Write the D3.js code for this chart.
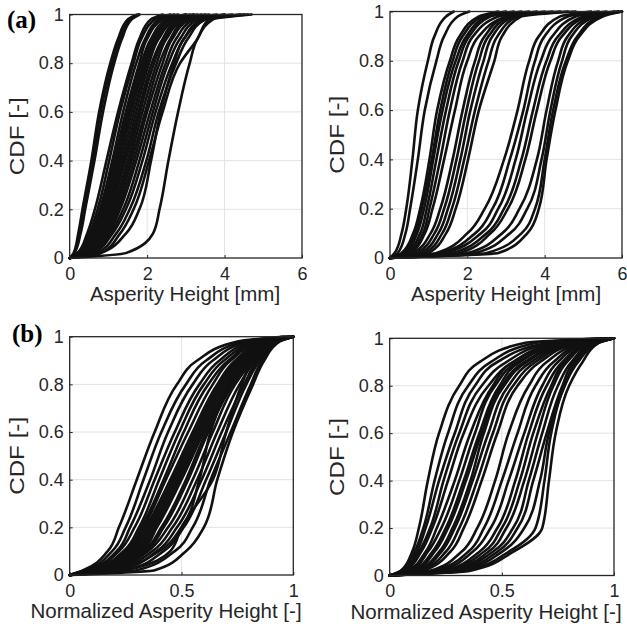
<!DOCTYPE html>
<html><head><meta charset="utf-8">
<script src="https://cdn.jsdelivr.net/npm/d3@7"></script>
<style>body{margin:0;background:#fff}svg{display:block}</style>
</head><body><svg id="chart" width="627" height="628"></svg>
<script>
const cdfLevels = [0, 0.02, 0.1, 0.2, 0.4, 0.6, 0.8, 0.9, 0.98, 1];
const heightTicks = [0, 2, 4, 6];
const normTicks = [0, 0.5, 1];
const cdfTicks = [0, 0.2, 0.4, 0.6, 0.8, 1];

// (a) left: asperity height [mm]
const curvesA1 = [
  [0, 0.10, 0.22, 0.33, 0.56, 0.76, 1.05, 1.25, 1.50, 1.75],
  [0, 0.12, 0.25, 0.36, 0.60, 0.80, 1.10, 1.30, 1.55, 1.80],
  [0, 0.12, 0.28, 0.40, 0.64, 0.86, 1.15, 1.35, 1.60, 1.80],
  [0, 0.20, 0.45, 0.65, 0.95, 1.25, 1.60, 1.80, 2.10, 2.40],
  [0, 0.20, 0.50, 0.72, 1.02, 1.30, 1.65, 1.85, 2.20, 2.60],
  [0, 0.25, 0.55, 0.78, 1.10, 1.38, 1.72, 1.95, 2.30, 2.70],
  [0, 0.25, 0.60, 0.82, 1.15, 1.45, 1.80, 2.00, 2.40, 2.80],
  [0, 0.30, 0.62, 0.86, 1.20, 1.50, 1.85, 2.10, 2.50, 3.00],
  [0, 0.30, 0.66, 0.90, 1.25, 1.55, 1.90, 2.15, 2.60, 3.10],
  [0, 0.35, 0.70, 0.95, 1.30, 1.60, 1.95, 2.20, 2.60, 3.00],
  [0, 0.35, 0.72, 0.98, 1.35, 1.66, 2.00, 2.25, 2.70, 3.20],
  [0, 0.40, 0.76, 1.02, 1.40, 1.72, 2.05, 2.30, 2.75, 3.30],
  [0, 0.40, 0.80, 1.05, 1.44, 1.78, 2.12, 2.40, 2.80, 3.20],
  [0, 0.45, 0.85, 1.10, 1.50, 1.82, 2.18, 2.45, 2.90, 3.40],
  [0, 0.45, 0.88, 1.15, 1.55, 1.88, 2.25, 2.50, 2.95, 3.50],
  [0, 0.50, 0.92, 1.20, 1.60, 1.95, 2.32, 2.60, 3.00, 3.60],
  [0, 0.50, 0.95, 1.25, 1.66, 2.00, 2.40, 2.65, 3.10, 3.80],
  [0, 0.55, 1.00, 1.30, 1.72, 2.08, 2.48, 2.75, 3.20, 4.00],
  [0, 0.60, 1.05, 1.38, 1.80, 2.15, 2.55, 2.85, 3.30, 4.20],
  [0, 0.60, 1.10, 1.45, 1.88, 2.22, 2.65, 2.95, 3.40, 4.40],
  [0, 0.70, 1.20, 1.55, 1.98, 2.30, 2.75, 3.05, 3.50, 4.50],
  [0, 0.80, 1.30, 1.65, 2.05, 2.40, 2.85, 3.30, 3.60, 4.60],
  [0, 0.80, 1.45, 1.80, 2.10, 2.35, 2.70, 2.95, 3.50, 4.00],
  [0, 1.45, 2.15, 2.32, 2.55, 2.80, 3.10, 3.30, 3.70, 4.70]
];

// (a) right: asperity height [mm]
const curvesA2 = [
  [0, 0.12, 0.30, 0.42, 0.58, 0.72, 0.98, 1.15, 1.45, 1.65],
  [0, 0.20, 0.40, 0.52, 0.72, 0.90, 1.20, 1.40, 1.75, 2.05],
  [0, 0.30, 0.60, 0.78, 1.02, 1.22, 1.55, 1.80, 2.30, 2.80],
  [0, 0.35, 0.65, 0.82, 1.08, 1.30, 1.62, 1.88, 2.40, 3.00],
  [0, 0.40, 0.70, 0.88, 1.12, 1.36, 1.70, 1.98, 2.50, 3.20],
  [0, 0.45, 0.78, 0.95, 1.20, 1.45, 1.78, 2.05, 2.60, 3.40],
  [0, 0.50, 0.85, 1.02, 1.30, 1.55, 1.88, 2.15, 2.80, 3.60],
  [0, 0.55, 0.90, 1.10, 1.40, 1.68, 2.00, 2.30, 3.00, 3.80],
  [0, 0.60, 1.05, 1.30, 1.62, 1.88, 2.20, 2.45, 3.00, 4.00],
  [0, 0.70, 1.15, 1.40, 1.72, 1.98, 2.30, 2.55, 3.10, 4.20],
  [0, 0.80, 1.25, 1.50, 1.82, 2.08, 2.42, 2.65, 3.20, 4.40],
  [0, 0.90, 1.35, 1.60, 1.92, 2.20, 2.55, 2.78, 3.30, 4.60],
  [0, 1.00, 1.45, 1.70, 2.02, 2.30, 2.70, 2.90, 3.40, 4.80],
  [0, 1.20, 2.00, 2.45, 2.95, 3.30, 3.60, 3.85, 4.40, 5.20],
  [0, 1.30, 2.20, 2.65, 3.10, 3.45, 3.75, 4.00, 4.60, 5.40],
  [0, 1.40, 2.35, 2.80, 3.25, 3.55, 3.90, 4.20, 4.80, 5.60],
  [0, 1.60, 2.50, 2.95, 3.40, 3.70, 4.05, 4.35, 5.00, 5.80],
  [0, 1.80, 2.60, 3.05, 3.50, 3.80, 4.15, 4.45, 5.10, 5.90],
  [0, 2.00, 2.90, 3.35, 3.80, 4.05, 4.35, 4.60, 5.20, 5.90],
  [0, 2.20, 3.10, 3.55, 3.92, 4.15, 4.45, 4.70, 5.30, 6.00],
  [0, 2.50, 3.40, 3.75, 4.00, 4.22, 4.55, 4.85, 5.40, 6.00],
  [0, 2.80, 3.55, 3.85, 4.05, 4.28, 4.60, 4.90, 5.50, 6.00]
];

// (b) left: normalized asperity height [-]
const curvesB1 = [
  [0, 0.06, 0.17, 0.22, 0.30, 0.38, 0.48, 0.57, 0.75, 0.95],
  [0, 0.07, 0.19, 0.25, 0.33, 0.41, 0.52, 0.61, 0.78, 0.96],
  [0, 0.08, 0.21, 0.27, 0.36, 0.44, 0.55, 0.64, 0.80, 0.96],
  [0, 0.09, 0.22, 0.29, 0.38, 0.47, 0.58, 0.67, 0.82, 0.97],
  [0, 0.10, 0.24, 0.31, 0.40, 0.49, 0.60, 0.69, 0.84, 0.97],
  [0, 0.10, 0.25, 0.32, 0.42, 0.51, 0.62, 0.71, 0.85, 0.98],
  [0, 0.11, 0.26, 0.33, 0.43, 0.53, 0.64, 0.72, 0.86, 0.98],
  [0, 0.12, 0.27, 0.34, 0.45, 0.55, 0.66, 0.74, 0.87, 0.98],
  [0, 0.12, 0.28, 0.35, 0.46, 0.56, 0.67, 0.75, 0.88, 0.98],
  [0, 0.13, 0.29, 0.36, 0.47, 0.57, 0.68, 0.76, 0.88, 0.99],
  [0, 0.14, 0.30, 0.37, 0.48, 0.58, 0.69, 0.77, 0.89, 0.99],
  [0, 0.15, 0.31, 0.38, 0.49, 0.59, 0.70, 0.78, 0.89, 0.99],
  [0, 0.16, 0.32, 0.39, 0.50, 0.60, 0.71, 0.79, 0.90, 0.99],
  [0, 0.17, 0.33, 0.41, 0.52, 0.61, 0.72, 0.80, 0.90, 1.00],
  [0, 0.18, 0.34, 0.42, 0.53, 0.62, 0.73, 0.81, 0.91, 1.00],
  [0, 0.19, 0.35, 0.44, 0.55, 0.64, 0.74, 0.82, 0.91, 1.00],
  [0, 0.20, 0.37, 0.46, 0.57, 0.66, 0.76, 0.83, 0.92, 1.00],
  [0, 0.22, 0.39, 0.48, 0.59, 0.68, 0.78, 0.84, 0.93, 1.00],
  [0, 0.25, 0.42, 0.51, 0.61, 0.70, 0.79, 0.85, 0.93, 1.00],
  [0, 0.20, 0.40, 0.50, 0.58, 0.63, 0.72, 0.80, 0.92, 1.00],
  [0, 0.25, 0.45, 0.50, 0.64, 0.70, 0.77, 0.82, 0.92, 1.00],
  [0, 0.30, 0.47, 0.55, 0.63, 0.72, 0.81, 0.86, 0.93, 1.00],
  [0, 0.38, 0.52, 0.60, 0.66, 0.73, 0.82, 0.87, 0.94, 1.00]
];

// (b) right: normalized asperity height [-]
const curvesB2 = [
  [0, 0.05, 0.10, 0.13, 0.17, 0.22, 0.31, 0.40, 0.60, 0.95],
  [0, 0.05, 0.11, 0.15, 0.20, 0.26, 0.35, 0.45, 0.65, 0.95],
  [0, 0.06, 0.12, 0.16, 0.22, 0.29, 0.38, 0.48, 0.70, 0.96],
  [0, 0.06, 0.13, 0.18, 0.24, 0.31, 0.41, 0.52, 0.72, 0.97],
  [0, 0.07, 0.14, 0.19, 0.26, 0.33, 0.44, 0.55, 0.75, 0.97],
  [0, 0.08, 0.16, 0.21, 0.29, 0.36, 0.46, 0.55, 0.76, 0.98],
  [0, 0.09, 0.17, 0.23, 0.31, 0.38, 0.47, 0.57, 0.78, 0.98],
  [0, 0.10, 0.19, 0.25, 0.33, 0.40, 0.49, 0.58, 0.78, 0.98],
  [0, 0.11, 0.20, 0.26, 0.34, 0.41, 0.50, 0.60, 0.80, 0.99],
  [0, 0.12, 0.22, 0.28, 0.36, 0.42, 0.51, 0.61, 0.80, 0.99],
  [0, 0.13, 0.23, 0.29, 0.37, 0.44, 0.53, 0.63, 0.82, 0.99],
  [0, 0.14, 0.25, 0.31, 0.39, 0.46, 0.55, 0.65, 0.83, 1.00],
  [0, 0.15, 0.27, 0.33, 0.41, 0.48, 0.57, 0.67, 0.84, 1.00],
  [0, 0.18, 0.32, 0.39, 0.47, 0.53, 0.62, 0.70, 0.86, 1.00],
  [0, 0.20, 0.35, 0.42, 0.50, 0.57, 0.65, 0.73, 0.87, 1.00],
  [0, 0.22, 0.37, 0.45, 0.53, 0.60, 0.68, 0.75, 0.88, 1.00],
  [0, 0.24, 0.40, 0.48, 0.56, 0.62, 0.70, 0.77, 0.89, 1.00],
  [0, 0.25, 0.42, 0.50, 0.58, 0.64, 0.72, 0.78, 0.90, 1.00],
  [0, 0.27, 0.44, 0.52, 0.60, 0.66, 0.73, 0.79, 0.90, 1.00],
  [0, 0.28, 0.46, 0.55, 0.62, 0.68, 0.75, 0.81, 0.91, 1.00],
  [0, 0.30, 0.48, 0.57, 0.64, 0.70, 0.77, 0.82, 0.92, 1.00],
  [0, 0.32, 0.50, 0.60, 0.67, 0.71, 0.78, 0.83, 0.92, 1.00],
  [0, 0.34, 0.53, 0.65, 0.69, 0.72, 0.78, 0.84, 0.93, 1.00],
  [0, 0.36, 0.55, 0.68, 0.71, 0.74, 0.80, 0.86, 0.93, 1.00]
];

const heightLabel = "Asperity Height [mm]";
const normLabel = "Normalized Asperity Height [-]";
const yLabel = "CDF [-]";

const panels = [
  {curves: curvesA1, xMax: 6, xTicks: heightTicks, xLabel: heightLabel, labelX: 185, tag: "(a)", box: [69.7, 14.5, 302, 258]},
  {curves: curvesA2, xMax: 6, xTicks: heightTicks, xLabel: heightLabel, labelX: 506, tag: null,  box: [390, 11.5, 622, 258]},
  {curves: curvesB1, xMax: 1, xTicks: normTicks,   xLabel: normLabel,   labelX: 166, tag: "(b)", box: [69.7, 336.7, 293.3, 575]},
  {curves: curvesB2, xMax: 1, xTicks: normTicks,   xLabel: normLabel,   labelX: 486, tag: null,  box: [389.7, 338.3, 614, 575.5]}
];

const svg = d3.select("#chart");
svg.append("rect").attr("width", 627).attr("height", 628).attr("fill", "#fff");
const fmt = d => String(d);
const sans = "'Liberation Sans', Arial, Helvetica, sans-serif";

panels.forEach((p, i) => {
  const [l, t, r, b] = p.box;
  const x = d3.scaleLinear().domain([0, p.xMax]).range([l, r]);
  const y = d3.scaleLinear().domain([0, 1]).range([b, t]);
  const g = svg.append("g");

  // grid
  g.append("g").selectAll("line").data(p.xTicks.slice(1, -1)).join("line")
    .attr("x1", d => x(d)).attr("x2", d => x(d)).attr("y1", t).attr("y2", b)
    .attr("stroke", "#e3e3e3").attr("stroke-width", 1);
  g.append("g").selectAll("line").data(cdfTicks.slice(1, -1)).join("line")
    .attr("y1", d => y(d)).attr("y2", d => y(d)).attr("x1", l).attr("x2", r)
    .attr("stroke", "#e3e3e3").attr("stroke-width", 1);

  // curves
  const line = d3.line().x(d => x(d[0])).y(d => y(d[1])).curve(d3.curveMonotoneY);
  g.append("g").selectAll("path").data(p.curves).join("path")
    .attr("d", c => line(c.map((v, k) => [v, cdfLevels[k]])))
    .attr("fill", "none").attr("stroke", "#111").attr("stroke-width", 2.6)
    .attr("stroke-linejoin", "round").attr("stroke-linecap", "round");

  // axes
  const xAxis = d3.axisBottom(x).tickValues(p.xTicks).tickFormat(fmt).tickSizeInner(-3).tickSizeOuter(0).tickPadding(9);
  const yAxis = d3.axisLeft(y).tickValues(cdfTicks).tickFormat(fmt).tickSizeInner(-3).tickSizeOuter(0).tickPadding(6);
  const xa = g.append("g").attr("transform", `translate(0,${b})`).call(xAxis);
  const ya = g.append("g").attr("transform", `translate(${l},0)`).call(yAxis);
  [xa, ya].forEach(a => {
    a.select(".domain").remove();
    a.selectAll("line").attr("stroke", "#262626");
    a.selectAll("text").attr("fill", "#262626").style("font-family", sans).style("font-size", "18px");
  });

  // box
  g.append("rect").attr("x", l).attr("y", t).attr("width", r - l).attr("height", b - t)
    .attr("fill", "none").attr("stroke", "#262626").attr("stroke-width", 1.3);

  // labels
  g.append("text").attr("x", p.labelX).attr("y", b + 43).attr("text-anchor", "middle")
    .style("font-family", sans).style("font-size", "20.5px").attr("fill", "#262626")
    .text(p.xLabel);
  const cy = (t + b) / 2;
  const lx = l - 46;
  g.append("text").attr("transform", `translate(${lx},${cy}) rotate(-90)`).attr("text-anchor", "middle")
    .attr("textLength", 78).attr("lengthAdjust", "spacingAndGlyphs")
    .style("font-family", sans).style("font-size", "19.5px").attr("fill", "#262626")
    .text(yLabel);
  if (p.tag) {
    g.append("text").attr("x", i === 0 ? 7 : 12).attr("y", i === 0 ? 28 : 342)
      .style("font-family", "'Liberation Serif', 'Times New Roman', serif").style("font-weight", "bold")
      .style("font-size", "25px").attr("fill", "#000").text(p.tag);
  }
});
</script></body></html>
